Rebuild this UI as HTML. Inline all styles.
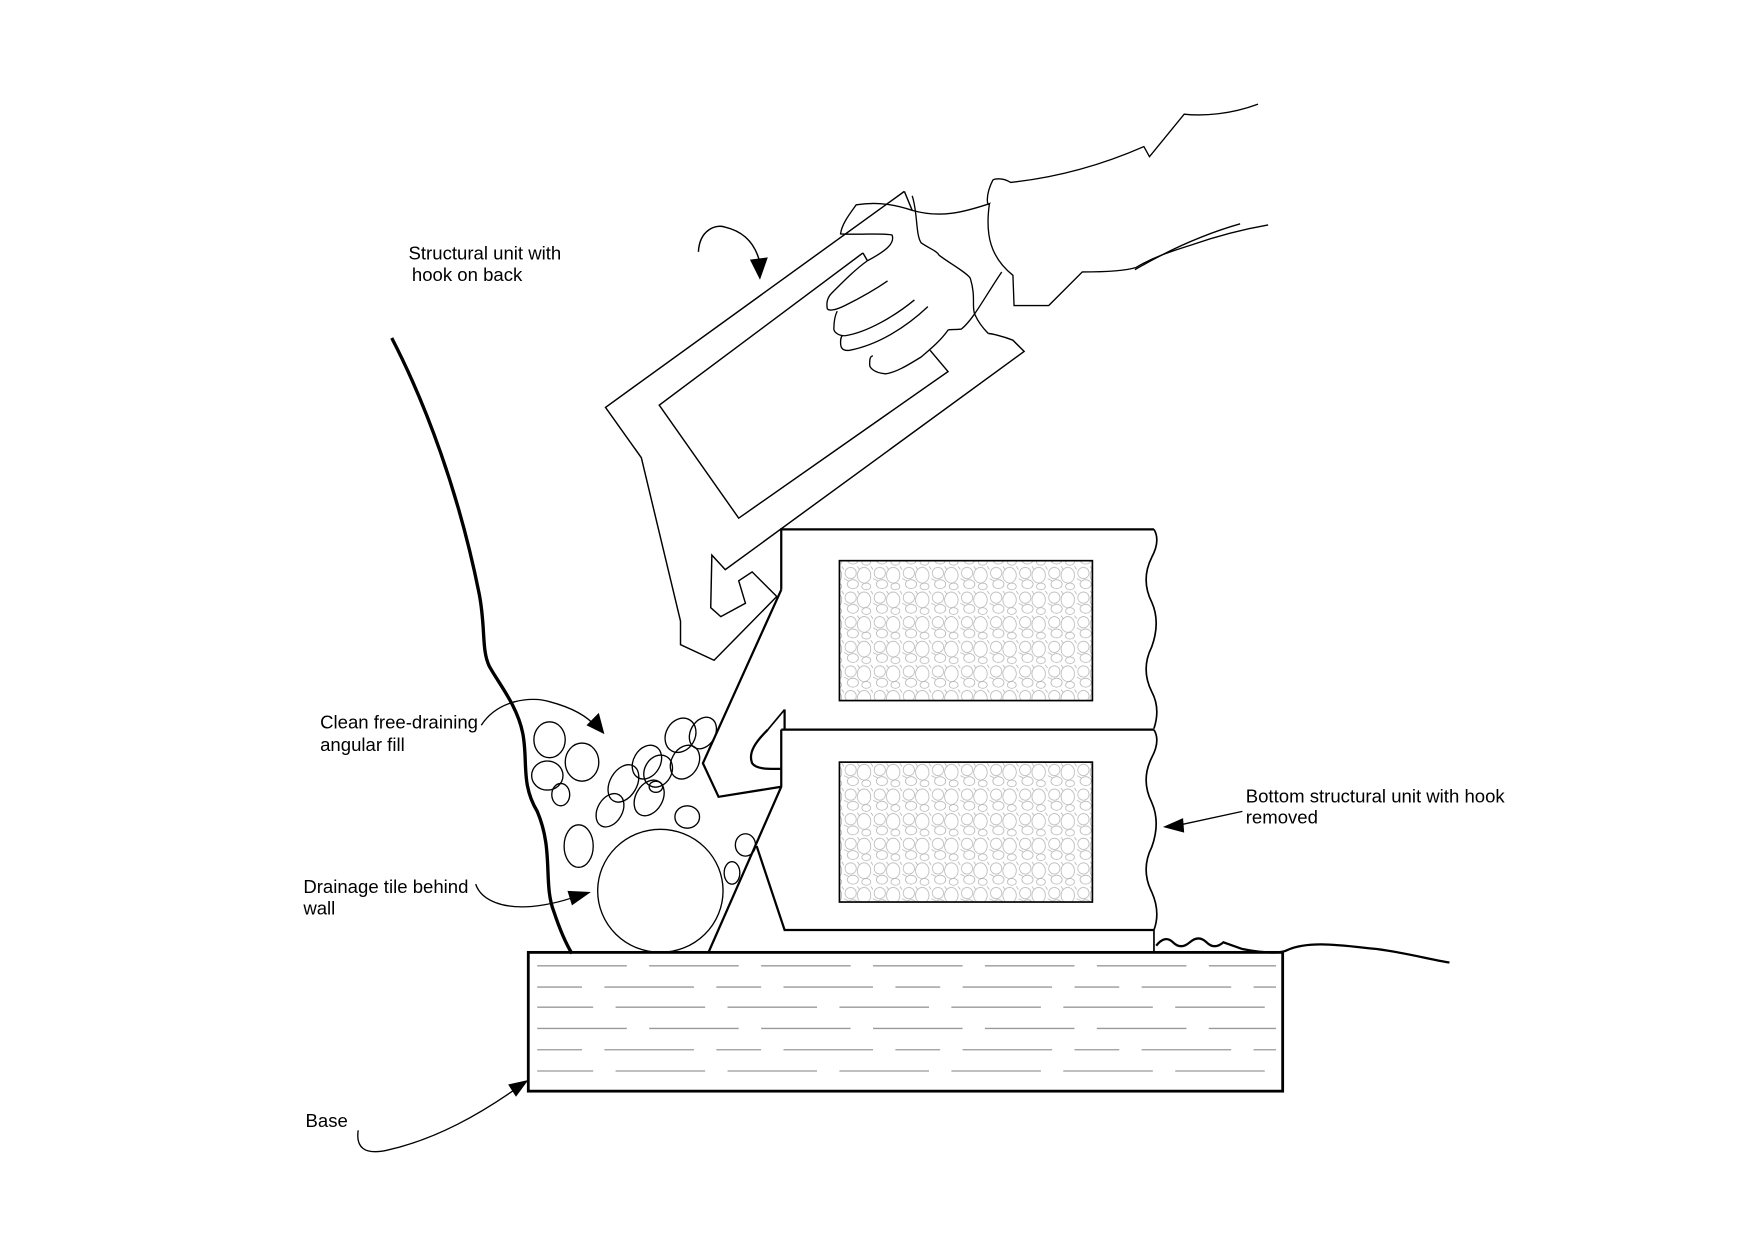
<!DOCTYPE html>
<html><head><meta charset="utf-8"><style>
html,body{margin:0;padding:0;background:#fff;}
svg{display:block;}
text{font-family:"Liberation Sans",sans-serif;font-size:16.6px;fill:#000;}
</style></head><body>
<svg width="1755" height="1240" viewBox="0 0 1568 1108" preserveAspectRatio="none" xmlns="http://www.w3.org/2000/svg">
<defs>
<pattern id="stones" width="26" height="22" patternUnits="userSpaceOnUse">
<g fill="none" stroke="#aaa" stroke-width="0.6">
<ellipse cx="6" cy="6" rx="5" ry="5"/>
<ellipse cx="18" cy="8" rx="6" ry="7"/>
<ellipse cx="8" cy="16" rx="5" ry="4"/>
<ellipse cx="20" cy="18" rx="4" ry="3"/>
<path d="M0,11 L4,13 M24,0 L26,3 M12,0 L14,3"/>
</g>
</pattern>
</defs>
<g fill="none" stroke="#000">
<rect x="472" y="851" width="674" height="124" stroke-width="2.5" fill="#fff"/>
<g stroke="#999" stroke-width="1.2">
<line x1="480" y1="863" x2="1140" y2="863" stroke-dasharray="80 20"/>
<line x1="480" y1="882" x2="1140" y2="882" stroke-dasharray="40 20 80 20" />
<line x1="480" y1="900" x2="1140" y2="900" stroke-dasharray="80 20" stroke-dashoffset="30"/>
<line x1="480" y1="919" x2="1140" y2="919" stroke-dasharray="80 20"/>
<line x1="480" y1="938" x2="1140" y2="938" stroke-dasharray="40 20 80 20"/>
<line x1="480" y1="957" x2="1140" y2="957" stroke-dasharray="80 20" stroke-dashoffset="30"/>
</g>
<path d="M698,527 L698,473 L1031,473" stroke-width="2"/>
<path d="M1031,473 q6,10 -2,25 q-10,20 0,40 q8,18 0,40 q-10,20 0,40 q8,15 2,33" stroke-width="1.5"/>
<path d="M698,527 L628,682 L642,712 L698,703" stroke-width="2"/>
<path d="M701,634 L701,652 M686,652 C676,662 668,672 672,682 C676,688 690,687 698,687" stroke-width="2"/>
<path d="M686,652 L701,634" stroke-width="1.5"/>
<line x1="698" y1="652" x2="1031" y2="652" stroke-width="2"/>
<path d="M698,652 L698,703 L633,851" stroke-width="2"/>
<path d="M676,756 L701,831 L1031,831" stroke-width="2"/>
<path d="M1031,652 q6,10 -2,25 q-10,20 0,40 q8,18 0,40 q-10,20 0,40 q8,18 2,34 L1031,851" stroke-width="1.5"/>
<rect x="750" y="501" width="226" height="125" fill="url(#stones)" stroke-width="1.5"/>
<rect x="750" y="681" width="226" height="125" fill="url(#stones)" stroke-width="1.5"/>
<path d="M350,302 C380,360 410,440 428,530 C434,560 430,580 437,595 C445,610 462,630 467,655 C472,680 465,700 480,725 C495,760 485,790 495,815 C500,830 505,842 511,852" stroke-width="3"/>
<g stroke-width="1.2">
<ellipse cx="491" cy="661" rx="14" ry="16"/>
<ellipse cx="520" cy="681" rx="15" ry="17"/>
<ellipse cx="489" cy="693" rx="14" ry="13"/>
<ellipse cx="501" cy="710" rx="8" ry="10"/>
<ellipse cx="517" cy="756" rx="13" ry="19"/>
<ellipse cx="614" cy="730" rx="11" ry="10"/>
<ellipse cx="608" cy="657" rx="13" ry="16" transform="rotate(30 608 657)"/>
<ellipse cx="628" cy="655" rx="11" ry="15" transform="rotate(30 628 655)"/>
<ellipse cx="578" cy="681" rx="12" ry="16" transform="rotate(30 578 681)"/>
<ellipse cx="612" cy="681" rx="12" ry="16" transform="rotate(30 612 681)"/>
<ellipse cx="588" cy="689" rx="12" ry="15" transform="rotate(30 588 689)"/>
<ellipse cx="557" cy="700" rx="12" ry="18" transform="rotate(30 557 700)"/>
<ellipse cx="580" cy="713" rx="12" ry="17" transform="rotate(30 580 713)"/>
<ellipse cx="586" cy="703" rx="6" ry="5"/>
<ellipse cx="545" cy="724" rx="11" ry="16" transform="rotate(30 545 724)"/>
<ellipse cx="666" cy="755" rx="9" ry="10"/>
<ellipse cx="654" cy="780" rx="7" ry="10"/>
<ellipse cx="590" cy="796" rx="56" ry="55"/>
</g>
<path d="M1033,845 q8,-10 15,-3 t15,0 t15,0 t15,0 L1110,848 C1130,852 1145,852 1150,849 C1170,840 1200,845 1230,848 C1260,852 1280,858 1295,860" stroke-width="2"/>
<path d="M808,171 L541,364 L573,409 L608,555 L608,576 L638,590 L694,533 L672,511 L660,519 L666,539 L644,551 L635,543 L636,496 L648,509 L915,314 L905,304 C895,300 885,298 883,298" stroke-width="1.3"/>
<path d="M808,171 L815,188" stroke-width="1.3"/>
<path d="M771,226 L589,362 L660,463 L847,332 L831,313 M771,226 L775,233" stroke-width="1.3"/>
<g stroke-width="1.2">
<path d="M1124,93 C1100,102 1075,104 1058,102 L1027,140 L1022,131 C990,145 950,158 903,163 C895,158 888,160 887,161 C880,175 882,185 884,182 C860,190 840,195 815,188 C800,183 785,180 765,183 C760,190 752,200 751,209 C770,210 790,208 797,210 C800,218 790,225 775,233"/>
<path d="M884,182 C880,210 885,230 905,246 L906,273 L937,273 L967,243 C990,243 1005,242 1015,239 C1030,230 1045,225 1064,219 C1090,210 1110,205 1133,201"/>
<path d="M1108,200 C1080,208 1050,220 1014,241"/>
<path d="M815,175 C820,190 818,210 823,217 C830,222 837,224 839,228 C848,235 866,245 867,249 C872,265 868,275 871,281 C875,290 880,295 883,298"/>
<path d="M895,243 C880,265 870,285 859,294 C852,295 849,294 847,295 C840,305 830,313 823,319 C810,327 800,333 791,334 C780,333 777,328 777,326 C777,322 777,318 780,318"/>
<path d="M793,251 C780,260 765,268 755,273 C745,278 739,278 739,275 C738,268 741,264 743,262 C755,250 765,240 775,233"/>
<path d="M817,268 C800,282 775,297 755,300 C748,300 745,296 745,294 C745,286 746,282 748,278"/>
<path d="M829,274 C810,292 785,308 759,313 C752,314 751,310 751,306 C751,302 752,300 753,300"/>
</g>
<path d="M624,225 C625,205 640,200 648,203 C665,207 675,218 679,235" stroke-width="1.3"/>
<path d="M430,648 C445,625 475,622 491,627 C510,632 525,640 533,650" stroke-width="1.2"/>
<path d="M425,790 C430,805 450,812 475,810 C495,808 510,803 520,799" stroke-width="1.2"/>
<path d="M1110,725 L1050,738" stroke-width="1.2"/>
<path d="M320,1010 C318,1025 325,1032 345,1028 C390,1018 430,995 465,970" stroke-width="1.2"/>
</g>
<g fill="#000">
<polygon points="679,250 670,232 686,230"/>
<polygon points="540,656 524,648 535,637"/>
<polygon points="528,797 511,809 507,796"/>
<polygon points="1039,739 1057,731 1058,744"/>
<polygon points="472,965 461,980 454,969"/>
</g>
<text x="365" y="232">Structural unit with</text>
<text x="368" y="251"> hook on back</text>
<text x="286" y="651">Clean free-draining</text>
<text x="286" y="671">angular fill</text>
<text x="271" y="798">Drainage tile behind</text>
<text x="271" y="817">wall</text>
<text x="1113" y="717">Bottom structural unit with hook</text>
<text x="1113" y="736">removed</text>
<text x="273" y="1007">Base</text>
</svg>
</body></html>
